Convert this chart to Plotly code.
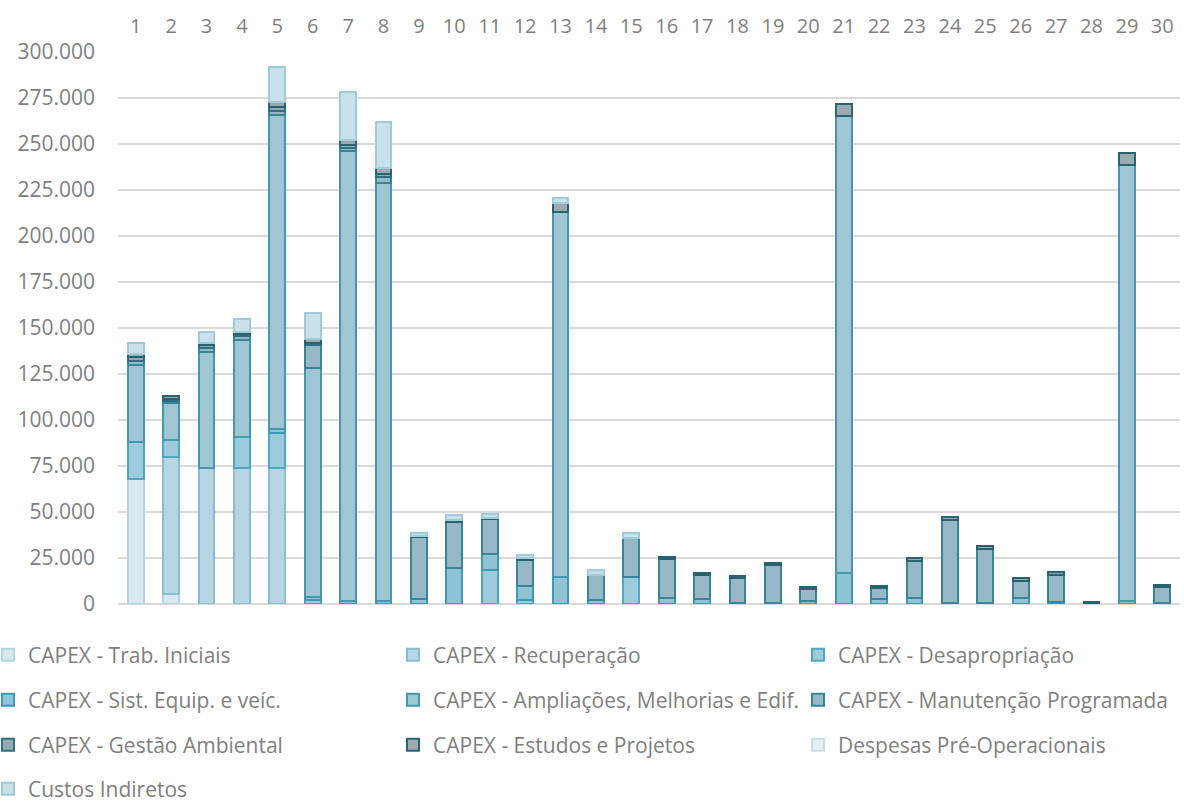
import plotly.graph_objects as go

# Periods 1..30
periods = [str(i) for i in range(1, 31)]

# Values per cost group (R$ thousand), one entry per period
trab_iniciais = [68, 5.5, 0, 0, 0, 0, 0, 0, 0, 0, 0, 0, 0, 0, 0, 0, 0, 0, 0, 0, 0, 0, 0, 0, 0, 0, 0, 0, 0, 0]
recuperacao = [0, 74.5, 74, 74, 74, 0, 0, 0, 0, 0, 0, 0, 0, 0, 0, 0, 0, 0, 0, 0, 0, 0, 0, 0, 0, 0, 0, 0, 0, 0]
desapropriacao = [20, 9, 0, 17, 19, 2, 0, 0, 0, 0, 18.5, 2, 0, 0, 14.5, 0, 0, 0, 0, 0, 0, 0, 0, 0, 0, 0, 0, 0, 0, 0]
sist_equip = [0, 0, 0, 0, 2, 2, 1.5, 1.5, 2.5, 19.5, 8.5, 8, 14.5, 2, 0, 3.5, 2.5, 0.5, 0.5, 1.5, 17, 2.5, 3, 0.5, 0.5, 3, 1, 0, 1.5, 0.5]
ampliacoes = [42, 20, 63, 52.5, 171, 124, 244.5, 227.5, 0, 0, 0, 0, 198.5, 0, 0, 0, 0, 0, 0, 0, 248, 0, 0, 0, 0, 0, 0, 0, 237, 0]
manutencao = [2, 1.5, 2, 2, 2, 13, 2, 3, 34, 25.2, 19, 14, 0, 14, 21.5, 21, 13, 13.5, 20.5, 6.5, 0, 6, 20.5, 45, 29.5, 9.5, 15, 0.3, 0, 8.5]
gestao_ambiental = [2, 1, 1.5, 1, 2, 1, 1.5, 1.5, 0, 0, 0, 0, 0, 0, 0, 0, 0, 0, 0, 0, 0, 0, 0, 0, 0, 0, 0, 0, 0, 0]
estudos_projetos = [2, 1.5, 1.5, 1.5, 3, 2, 2.5, 3.5, 0.5, 0.8, 1, 1, 5, 0, 0, 1.2, 1.5, 1.2, 1.5, 1.2, 6.5, 1.5, 1.7, 2, 1.5, 1.5, 1.6, 0.8, 6.5, 1.5]
despesas_pre_op = [0] * 30
custos_indiretos = [6, 0, 6, 7, 19, 14, 26, 25, 1.5, 2.9, 2, 1.6, 2.5, 2.5, 2.5, 0, 0, 0, 0, 0, 0, 0, 0, 0, 0, 0, 0, 0, 0, 0]

series = [
    ("CAPEX - Trab. Iniciais", trab_iniciais, "#d8e9f0", "#b3d5e1"),
    ("CAPEX - Recuperação", recuperacao, "#b5d6e2", "#88bed0"),
    ("CAPEX - Desapropriação", desapropriacao, "#9ecbdb", "#4fa8c3"),
    ("CAPEX - Sist. Equip. e veíc.", sist_equip, "#90c3d3", "#3b9cba"),
    ("CAPEX - Ampliações, Melhorias e Edif.", ampliacoes, "#9fc6d3", "#4596ae"),
    ("CAPEX - Manutenção Programada", manutencao, "#96b9c5", "#3a8499"),
    ("CAPEX - Gestão Ambiental", gestao_ambiental, "#94abb4", "#2e7083"),
    ("CAPEX - Estudos e Projetos", estudos_projetos, "#9caab1", "#2b6272"),
    ("Despesas Pré-Operacionais", despesas_pre_op, "#e4eff3", "#c9dfe7"),
    ("Custos Indiretos", custos_indiretos, "#c9e1ea", "#a0cbd9"),
]

FONT = "Open Sans"
GREY = "#7f7f7f"

plot_top, plot_bottom, plot_left, plot_w = 52, 604, 118, 1062
plot_h = plot_bottom - plot_top

# Legend grid: three columns, four rows (pixel positions of each entry)
col_px = [-12, 393, 798]
row_px = [655, 700, 745, 789]

fig = go.Figure()
legends = {}
for i, (name, vals, fill, line) in enumerate(series):
    lg = "legend" if i == 0 else f"legend{i + 1}"
    fig.add_trace(go.Bar(
        x=periods,
        y=[v * 1000 if v else None for v in vals],
        name=name,
        legend=lg,
        showlegend=True,
        marker=dict(color=fill, line=dict(color=line, width=2)),
    ))
    r, c = divmod(i, 3)
    legends[lg] = dict(
        orientation="v", xanchor="left", yanchor="middle",
        x=(col_px[c] - plot_left) / plot_w,
        y=(plot_bottom - row_px[r]) / plot_h,
        font=dict(family=FONT, size=21, color=GREY), itemwidth=30,
        bgcolor="rgba(0,0,0,0)",
    )

fig.update_layout(
    showlegend=True,
    barmode="stack",
    bargap=0.55,
    width=1184, height=802,
    margin=dict(l=plot_left, r=1184 - plot_left - plot_w, t=plot_top, b=802 - plot_bottom,
                autoexpand=False),
    paper_bgcolor="white", plot_bgcolor="white",
    separators=",.",
    font=dict(family=FONT, size=19, color=GREY),
    xaxis=dict(side="top", type="category", showgrid=False, showline=False,
               ticks="", ticklabelstandoff=14,
               tickfont=dict(family=FONT, size=20, color=GREY)),
    yaxis=dict(range=[0, 300000], tickvals=list(range(0, 300001, 25000)),
               tickformat=",.0f", showgrid=True, gridcolor="#d9d9d9", gridwidth=2,
               zeroline=True, zerolinecolor="#d9d9d9", zerolinewidth=2,
               showline=False, ticks="", ticklabelstandoff=22,
               tickfont=dict(family=FONT, size=21, color=GREY)),
    **legends,
)

fig.write_html("out.html")
